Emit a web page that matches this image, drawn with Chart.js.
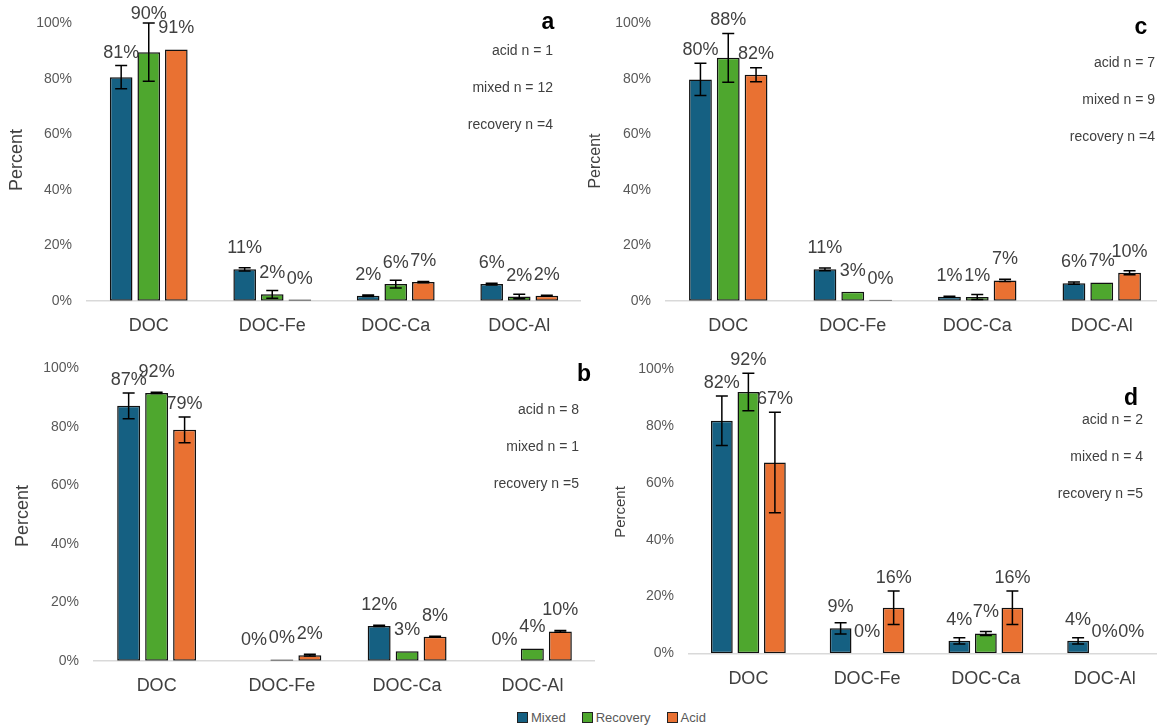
<!DOCTYPE html>
<html>
<head>
<meta charset="utf-8">
<script src="https://cdn.jsdelivr.net/npm/chart.js@4.4.1/dist/chart.umd.min.js"></script>
<style>
  html, body { margin: 0; padding: 0; background: #fff; overflow: hidden; }
  body { width: 1157px; height: 725px; position: relative; font-family: "Liberation Sans", Arial, sans-serif; }
  canvas { position: absolute; }
  #legend { position: absolute; left: 517px; top: 710px; display: flex; align-items: center; font-size: 13px; color: #595959; }
  #legend span.box { display: inline-block; width: 9px; height: 9px; border: 1px solid #222; margin-right: 3px; }
  #legend span.item { display: flex; align-items: center; margin-right: 16px; }
</style>
</head>
<body>
<canvas id="chartA" width="581" height="345" style="left:0;top:0"></canvas>
<canvas id="chartC" width="584" height="345" style="left:580px;top:0"></canvas>
<canvas id="chartB" width="595" height="355" style="left:0;top:345px"></canvas>
<canvas id="chartD" width="584" height="355" style="left:580px;top:345px"></canvas>
<div id="legend">
  <span class="item"><span class="box" style="background:#156082"></span>Mixed</span>
  <span class="item"><span class="box" style="background:#4ea72e"></span>Recovery</span>
  <span class="item"><span class="box" style="background:#e97132"></span>Acid</span>
</div>
<script>
// categories and axis ticks
const categories = ["DOC", "DOC-Fe", "DOC-Ca", "DOC-Al"];
const yTickValues = [0, 20, 40, 60, 80, 100];

// panel a
const mixedA = [80.6, 11.3, 1.8, 6.0];
const mixedAErr = [4.2, 0.6, 0.3, 0.3];
const recoveryA = [89.6, 2.3, 6.0, 1.5];
const recoveryAErr = [10.5, 1.4, 1.4, 0.8];
const acidA = [90.6, 0.4, 6.7, 1.8];
const acidAErr = [0, 0, 0.2, 0.2];
const notesA = ["acid n = 1", "mixed n = 12", "recovery n =4"];

// panel c
const mixedC = [79.8, 11.3, 1.4, 6.3];
const mixedCErr = [5.8, 0.5, 0.2, 0.4];
const recoveryC = [87.6, 3.2, 1.3, 6.6];
const recoveryCErr = [8.8, 0, 0.9, 0];
const acidC = [81.5, 0.3, 7.3, 10.1];
const acidCErr = [2.5, 0, 0.4, 0.7];
const notesC = ["acid n = 7", "mixed n = 9", "recovery n =4"];

// panel b
const mixedB = [87.2, 0, 11.9, 0];
const mixedBErr = [4.4, 0, 0.2, 0];
const recoveryB = [91.6, 0.4, 3.2, 4.2];
const recoveryBErr = [0.2, 0, 0, 0];
const acidB = [79.0, 1.9, 8.2, 10.0];
const acidBErr = [4.4, 0.3, 0.2, 0.3];
const notesB = ["acid n = 8", "mixed n = 1", "recovery n =5"];

// panel d
const mixedD = [81.9, 8.8, 4.4, 4.4];
const mixedDErr = [8.7, 2.0, 1.1, 1.1];
const recoveryD = [92.0, 0, 7.0, 0];
const recoveryDErr = [6.6, 0, 0.7, 0];
const acidD = [67.2, 16.0, 16.0, 0];
const acidDErr = [17.7, 5.9, 5.9, 0];
const notesD = ["acid n = 2", "mixed n = 4", "recovery n =5"];

const FONT = '"Liberation Sans", Arial, sans-serif';
const colors = { mixed: "#156082", recovery: "#4ea72e", acid: "#e97132" };

// draws error bars, value labels, panel letter, notes and axis title
const extras = {
  id: "extras",
  afterDatasetsDraw(chart, args, opts) {
    const ctx = chart.ctx;
    const y = chart.scales.y;
    ctx.save();
    // error bars
    ctx.strokeStyle = "#000";
    ctx.lineWidth = 1.5;
    chart.data.datasets.forEach((ds, i) => {
      chart.getDatasetMeta(i).data.forEach((bar, j) => {
        const e = ds.errs[j];
        if (!e) return;
        const v = ds.data[j];
        const t = y.getPixelForValue(v + e);
        const b = y.getPixelForValue(Math.max(v - e, 0));
        ctx.beginPath();
        ctx.moveTo(bar.x, t); ctx.lineTo(bar.x, b);
        ctx.moveTo(bar.x - 6, t); ctx.lineTo(bar.x + 6, t);
        ctx.moveTo(bar.x - 6, b); ctx.lineTo(bar.x + 6, b);
        ctx.stroke();
      });
    });
    // value labels
    ctx.fillStyle = "#404040";
    ctx.font = "18px " + FONT;
    ctx.textAlign = "center";
    ctx.textBaseline = "middle";
    chart.data.datasets.forEach((ds, i) => {
      chart.getDatasetMeta(i).data.forEach((bar, j) => {
        const v = ds.data[j];
        const top = y.getPixelForValue(v);
        const errTop = y.getPixelForValue(v + ds.errs[j]);
        const ly = Math.max(Math.min(top - 21, errTop - 13), 14);
        ctx.fillText(Math.round(v) + "%", bar.x, ly);
      });
    });
    // panel letter
    ctx.fillStyle = "#000";
    ctx.font = "bold 23px " + FONT;
    ctx.fillText(opts.letter, opts.letterX, opts.letterY);
    // notes
    ctx.fillStyle = "#404040";
    ctx.font = "14px " + FONT;
    ctx.textAlign = "right";
    opts.notes.forEach((n, k) => ctx.fillText(n, opts.noteRight, opts.noteTop + k * 37));
    // axis title
    ctx.translate(opts.titleX, opts.titleY);
    ctx.rotate(-Math.PI / 2);
    ctx.textAlign = "center";
    ctx.font = opts.titleSize + "px " + FONT;
    ctx.fillStyle = "#404040";
    ctx.fillText("Percent", 0, 0);
    ctx.restore();
  }
};

function makePanel(id, mixed, mixedErr, recovery, recoveryErr, acid, acidErr, notes, pos) {
  const bar = { borderColor: "#111", borderWidth: 1.5, borderSkipped: false };
  new Chart(document.getElementById(id), {
    type: "bar",
    data: {
      labels: categories,
      datasets: [
        { label: "Mixed", data: mixed, errs: mixedErr, backgroundColor: colors.mixed, ...bar },
        { label: "Recovery", data: recovery, errs: recoveryErr, backgroundColor: colors.recovery, ...bar },
        { label: "Acid", data: acid, errs: acidErr, backgroundColor: colors.acid, ...bar },
      ],
    },
    options: {
      responsive: false,
      animation: false,
      layout: { padding: { top: pos.padTop, left: 0, right: 0, bottom: 0 } },
      datasets: { bar: { categoryPercentage: 0.67, barPercentage: 0.82 } },
      plugins: {
        legend: { display: false },
        tooltip: { enabled: false },
        extras: {
          letter: pos.letter, letterX: pos.letterX, letterY: pos.letterY,
          notes: notes, noteRight: pos.noteRight, noteTop: pos.noteTop,
          titleX: pos.titleX, titleY: pos.titleY, titleSize: pos.titleSize,
        },
      },
      scales: {
        x: {
          grid: { display: false, drawTicks: false },
          border: { display: true, color: "#d9d9d9", width: 1.5 },
          ticks: { font: { family: FONT, size: 18 }, color: "#404040", padding: 15, maxRotation: 0 },
          afterFit: (a) => { a.height = pos.xH; },
        },
        y: {
          min: 0,
          max: 100,
          afterBuildTicks: (a) => { a.ticks = yTickValues.map((v) => ({ value: v })); },
          grid: { display: false, drawTicks: false },
          border: { display: false },
          ticks: { font: { family: FONT, size: 14 }, color: "#595959", padding: 15, callback: (v) => v + "%" },
          afterFit: (a) => { a.width = pos.yW; },
        },
      },
    },
    plugins: [extras],
  });
}

makePanel("chartA", mixedA, mixedAErr, recoveryA, recoveryAErr, acidA, acidAErr, notesA,
  { padTop: 16, xH: 44.3, yW: 87, letter: "a", letterX: 548, letterY: 23, noteRight: 553, noteTop: 51, titleX: 17, titleY: 160, titleSize: 18 });
makePanel("chartC", mixedC, mixedCErr, recoveryC, recoveryCErr, acidC, acidCErr, notesC,
  { padTop: 16, xH: 44.3, yW: 86, letter: "c", letterX: 561, letterY: 28, noteRight: 575, noteTop: 63, titleX: 16, titleY: 161, titleSize: 16 });
makePanel("chartB", mixedB, mixedBErr, recoveryB, recoveryBErr, acidB, acidBErr, notesB,
  { padTop: 22.7, xH: 39.3, yW: 94, letter: "b", letterX: 584, letterY: 30, noteRight: 579, noteTop: 65, titleX: 23, titleY: 171, titleSize: 18 });
makePanel("chartD", mixedD, mixedDErr, recoveryD, recoveryDErr, acidD, acidDErr, notesD,
  { padTop: 24.3, xH: 46.7, yW: 109, letter: "d", letterX: 551, letterY: 54, noteRight: 563, noteTop: 75, titleX: 41, titleY: 167, titleSize: 15 });
</script>
</body>
</html>
